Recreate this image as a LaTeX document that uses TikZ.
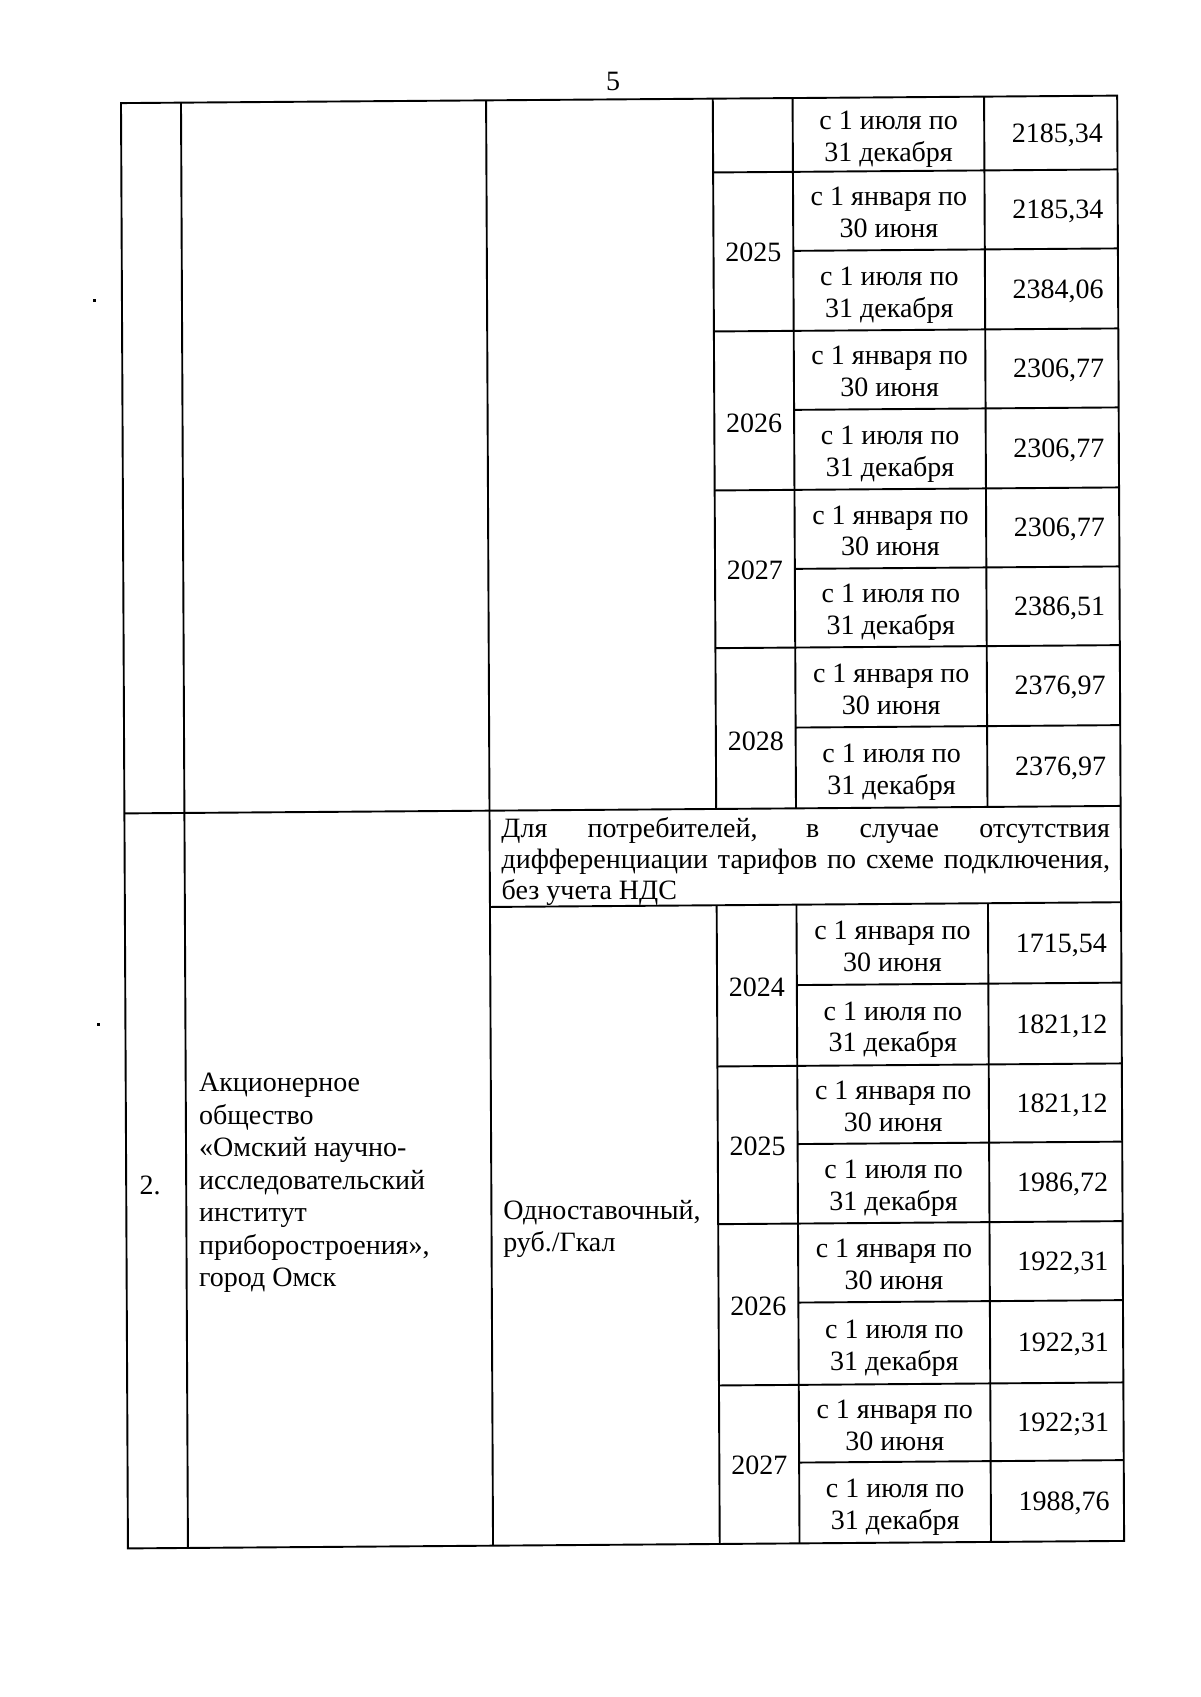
\documentclass[tikz,border=0pt]{standalone}
\usepackage{fontspec}
\setmainfont{Liberation Serif}
\newcommand{\dph}{\vphantom{р}}
\begin{document}
\begin{tikzpicture}[x=0.5pt,y=-0.5pt,
  grid/.style={line width=0.95pt,black},
  txt/.style={font=\fontsize{14pt}{15.9pt}\selectfont,inner sep=0pt,align=center},
  val/.style={font=\fontsize{14pt}{15.9pt}\selectfont,inner sep=0pt,anchor=east},
  speck/.style={fill=black,draw=none}]
\useasboundingbox[fill=white] (0,0) rectangle (1200,1697);
\node[txt] (pnum) at (613,81) {5};
\fill[speck] (93,299) rectangle (96,302);
\fill[speck] (97,1023) rectangle (100,1026);
\begin{scope}[xslant=-0.0048,yslant=0.0075]
% outer frame and main verticals
\draw[grid] (120.5,104) rectangle (1116.7,1549.3);
\draw[grid] (180.5,104) -- (180.5,1549.3);
\draw[grid] (485.6,104) -- (485.6,1549.3);
\draw[grid] (120.5,814.3) -- (1116.7,814.3);
\draw[grid] (485.6,910.6) -- (1116.7,910.6);
% inner verticals
\foreach \xx in {712.3,792.1,983.6}{
  \draw[grid] (\xx,104) -- (\xx,814.3);
  \draw[grid] (\xx,910.6) -- (\xx,1549.3);
}
% year lines
\foreach \yy in {177.8,336.8,495.8,653.5,1071.8,1229.5,1390.8}{
  \draw[grid] (712.3,\yy) -- (1116.7,\yy);
}
% half-year lines
\foreach \yy in {256.8,415.8,574.8,733.5,991,1150,1308.5,1468.5}{
  \draw[grid] (792.1,\yy) -- (1116.7,\yy);
}
% years
\node[txt] (y25a) at (752.2,258) {2025};
\node[txt] (y26a) at (752.2,429) {2026};
\node[txt] (y27a) at (752.2,576) {2027};
\node[txt] (y28a) at (752.2,747) {2028};
\node[txt] (y24b) at (752.2,993) {2024};
\node[txt] (y25b) at (752.2,1152) {2025};
\node[txt] (y26b) at (752.2,1311.5) {2026};
\node[txt] (y27b) at (752.2,1471) {2027};
% periods and values, section 1
\foreach \m/\p/\v [count=\i] in {
  140.9/{с 1 июля по\\31 декабря}/{2185,34},
  217.3/{с 1 января по\\30 июня\dph}/{2185,34},
  296.8/{с 1 июля по\\31 декабря}/{2384,06},
  376.3/{с 1 января по\\30 июня\dph}/{2306,77},
  455.8/{с 1 июля по\\31 декабря}/{2306,77},
  535.3/{с 1 января по\\30 июня\dph}/{2306,77},
  614.2/{с 1 июля по\\31 декабря}/{2386,51},
  693.5/{с 1 января по\\30 июня\dph}/{2376,97},
  773.9/{с 1 июля по\\31 декабря}/{2376,97}}{
  \node[txt] (pa\i) at (887.9,\m+5) {\p};
  \node[val] (va\i) at (1102.7,\m+2.5) {\v};
}
% periods and values, section 2
\foreach \m/\p/\v [count=\i] in {
  950.8/{с 1 января по\\30 июня\dph}/{1715,54},
  1031.4/{с 1 июля по\\31 декабря}/{1821,12},
  1110.9/{с 1 января по\\30 июня\dph}/{1821,12},
  1189.8/{с 1 июля по\\31 декабря}/{1986,72},
  1269.0/{с 1 января по\\30 июня\dph}/{1922,31},
  1349.7/{с 1 июля по\\31 декабря}/{1922,31},
  1429.7/{с 1 января по\\30 июня\dph}/{1922;31},
  1508.9/{с 1 июля по\\31 декабря}/{1988,76}}{
  \node[txt] (pb\i) at (887.9,\m+5) {\p};
  \node[val] (vb\i) at (1102.7,\m+3) {\v};
}
% header of section 2
\node[txt,anchor=base west] (h1) at (497,841) {\makebox[304.25pt][s]{Для потребителей, в случае отсутствия}};
\node[txt,anchor=base west] (h2) at (497,872) {\makebox[304.25pt][s]{дифференциации тарифов по схеме подключения,}};
\node[txt,anchor=base west] (h3) at (497,903) {без учета НДС};
% left cells
\node[txt] (num) at (144.5,1186) {2.};
\node[txt,align=left,anchor=west,font=\fontsize{14pt}{16.25pt}\selectfont] (org) at (193,1184.5)
  {Акционерное\\общество\\«Омский научно-\\исследовательский\\институт\\приборостроения»,\\город Омск};
\node[txt,align=left,anchor=west] (kind) at (497,1233) {Одноставочный,\\руб./Гкал};
\end{scope}
\end{tikzpicture}
\end{document}
